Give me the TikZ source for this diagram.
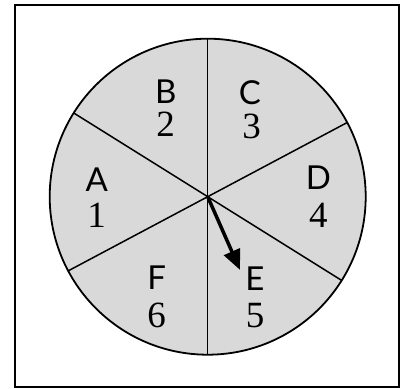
\documentclass[tikz,border=0pt]{standalone}
\usepackage{fontspec}
\setmainfont{Liberation Serif}
\newfontfamily\letterfont{Lato}
\usetikzlibrary{arrows.meta}

\begin{document}
\begin{tikzpicture}[x=1pt,y=1pt,
        letter/.style={inner sep=0pt,font=\letterfont\fontsize{33}{33}\selectfont},
        digit/.style={inner sep=0pt,font=\fontsize{37}{37}\selectfont}]
                \useasboundingbox (-207.7,-191.3) rectangle (198.3,196.7);
                \draw[line width=2] (-192.7,-190.3) rectangle (191.3,191.7);
                \coordinate (O) at (0,0);
                \fill[black!15] (O) circle (158);
                \foreach \ang [count=\i] in {90,148,208,270,328,28}
                    \coordinate (s\i) at (\ang:158);
                \draw[line width=1.5] (s1) -- (s4);
                \draw[line width=1.5] (s2) -- (s5);
                \draw[line width=1.5] (s3) -- (s6);
                \draw[line width=1.8] (O) circle (158);
                %letters and numbers
                \node[letter] (A) at (-111,17.5) {A};
                \node[digit] (n1) at (-111,-18.8) {1};
                \node[letter] (B) at (-42,105.5) {B};
                \node[digit] (n2) at (-42,72) {2};
                \node[letter] (C) at (42.3,104.5) {C};
                \node[digit] (n3) at (44,70) {3};
                \node[letter] (D) at (110.6,19) {D};
                \node[digit] (n4) at (110.6,-18.8) {4};
                \node[letter] (E) at (47.3,-82) {E};
                \node[digit] (n5) at (47.3,-118.8) {5};
                \node[letter] (F) at (-51,-81) {F};
                \node[digit] (n6) at (-51,-118.8) {6};
                \coordinate (tip) at (-66.2:80);
                \draw[line width=3.5, -{Triangle[length=20pt,width=17pt]}] (O) -- (tip);
            \end{tikzpicture}
\end{document}
